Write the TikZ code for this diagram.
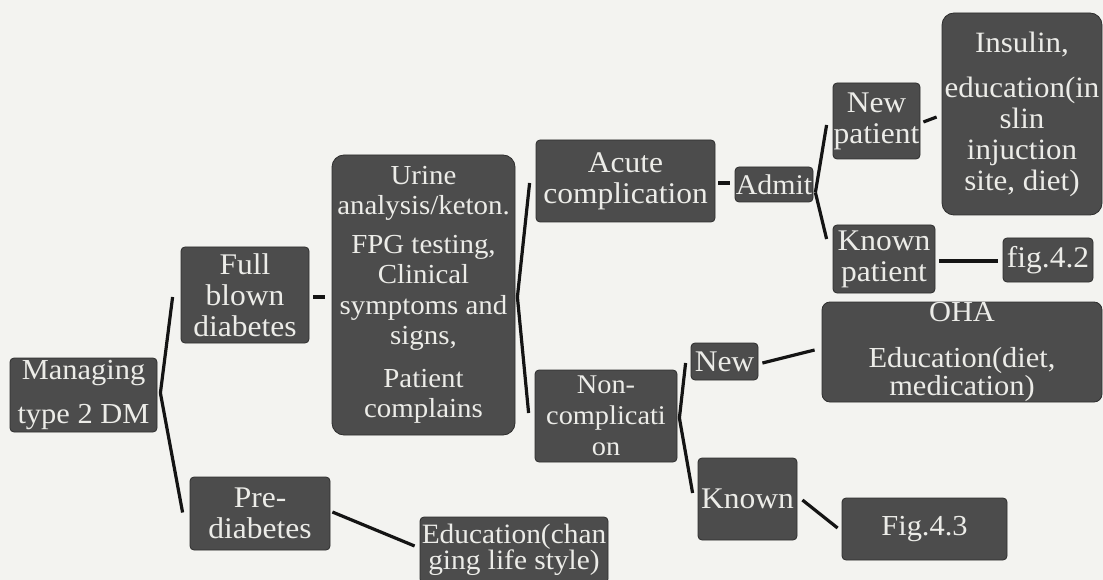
\documentclass[tikz,border=0pt]{standalone}
\usepackage{fontspec}
\setmainfont{Liberation Serif}[FakeStretch=1.05]
\usetikzlibrary{calc}

\definecolor{paper}{RGB}{243,243,240}
\definecolor{boxfill}{RGB}{76,76,76}
\definecolor{boxedge}{RGB}{45,45,45}
\definecolor{boxtext}{RGB}{236,236,232}

\tikzset{
  box/.style={draw=boxedge, line width=0.8pt, fill=boxfill, text=boxtext,
    rounded corners=4pt, inner sep=0pt, align=center},
  bigbox/.style={box, rounded corners=12pt},
  fs/.style={font=\fontsize{#1}{31}\selectfont},
  conn/.style={draw=black!92, line width=3.2pt},
}

\begin{document}
\begin{tikzpicture}[x=1pt, y=-1pt]
  \useasboundingbox (0,0) rectangle (1103,580);
  \fill[paper] (0,0) rectangle (1103,580);
  \clip (0,0) rectangle (1103,580);

  % first level
  \node[box, fs=29, minimum width=147, minimum height=74] (manage) at (83.5,395)
    {Managing\\[13pt]type 2 DM};
  \node[box, fs=30, minimum width=128, minimum height=96] (full) at (245,295)
    {Full\\blown\\diabetes};
  \node[box, fs=30, minimum width=140, minimum height=73] (pre) at (260,513.5)
    {Pre-\\diabetes};

  % investigations
  \node[bigbox, font=\fontsize{27.5}{30.5}\selectfont, minimum width=183, minimum height=280] (urine) at (423.5,295)
    {Urine\\analysis/keton.\\[8pt]FPG testing,\\Clinical\\symptoms and\\signs,\\[12pt]Patient\\complains};
  \node[box, fs=28, minimum width=188, minimum height=66] (edu) at (514,550)
    {\raisebox{4pt}{\begin{tabular}{@{}c@{}}Education(chan\\[-5pt]ging life style)\end{tabular}}};

  % complication branch
  \node[box, fs=30, minimum width=179, minimum height=82] (acute) at (625.5,181)
    {Acute\\complication};
  \node[box, fs=27, minimum width=142, minimum height=92] (noncomp) at (606,416)
    {Non-\\complicati\\on};
  \node[box, fs=28.5, minimum width=78, minimum height=35] (admit) at (774,184.5)
    {Admit};

  % patients
  \node[box, fs=30, minimum width=87, minimum height=76] (newp) at (876.5,121)
    {New\\patient};
  \node[box, fs=30, minimum width=102, minimum height=68] (knownp) at (884,259)
    {Known\\patient};
  \node[box, fs=30, minimum width=67, minimum height=37] (newtwo) at (724.5,361.5)
    {New};
  \node[box, fs=30, minimum width=99, minimum height=82] (knowntwo) at (747.5,499)
    {Known};

  % outcomes
  \node[bigbox, fs=29.5, minimum width=160, minimum height=202] (insulin) at (1022,114)
    {Insulin,\\[14pt]education(in\\slin\\injuction\\site, diet)};
  \node[box, fs=30, minimum width=90, minimum height=44] (figtwo) at (1048,260)
    {fig.4.2};
  \node[box, rounded corners=8pt, font=\fontsize{29}{28}\selectfont, minimum width=280, minimum height=100] (oha) at (962,352)
    {OHA\\[18pt]Education(diet,\\medication)};
  \node[box, fs=29, minimum width=165, minimum height=62] (figthree) at (924.5,529)
    {Fig.4.3};

  % connectors
  \draw[conn] ($(manage.east)+(3,-2)$) -- ($(full.west)+(-8,2)$);
  \draw[conn] ($(manage.east)+(3,-2)$) -- ($(pre.west)+(-7,-1)$);
  \draw[conn] ($(full.east)+(4,2)$) -- ($(urine.west)+(-7,2)$);
  \draw[conn] ($(pre.east)+(2,-1.5)$) -- ($(edu.west)+(-5,-4)$);
  \draw[conn] ($(urine.east)+(2,2)$) -- ($(acute.west)+(-6,2)$);
  \draw[conn] ($(urine.east)+(2,2)$) -- ($(noncomp.west)+(-6,-3)$);
  \draw[conn] ($(acute.east)+(3,2)$) -- ($(admit.west)+(-5,-1.5)$);
  \draw[conn] ($(admit.east)+(2,8)$) -- ($(newp.west)+(-6,4)$);
  \draw[conn] ($(admit.east)+(2,8)$) -- ($(knownp.west)+(-6,-20)$);
  \draw[conn] ($(newp.east)+(3,1)$) -- ($(insulin.west)+(-5,3)$);
  \draw[conn] ($(knownp.east)+(4,2)$) -- ($(figtwo.west)+(-5,1)$);
  \draw[conn] ($(noncomp.east)+(2,2)$) -- ($(newtwo.west)+(-5,1.5)$);
  \draw[conn] ($(noncomp.east)+(2,2)$) -- ($(knowntwo.west)+(-5,-6)$);
  \draw[conn] ($(newtwo.east)+(4,1.5)$) -- ($(oha.west)+(-7,-2)$);
  \draw[conn] ($(knowntwo.east)+(5,1)$) -- ($(figthree.west)+(-4,-1)$);
\end{tikzpicture}
\end{document}
